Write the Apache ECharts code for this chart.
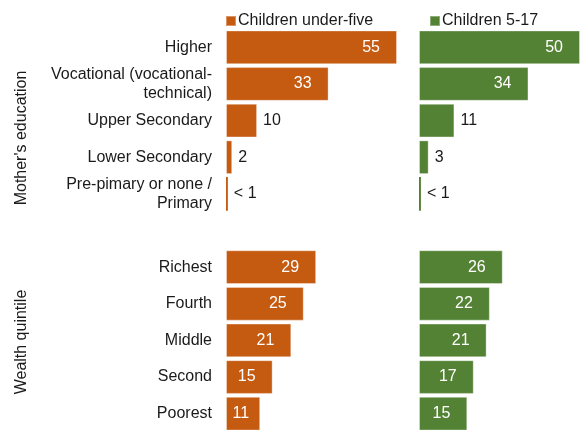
<!DOCTYPE html>
<html>
<head>
<meta charset="utf-8">
<script src="https://cdn.jsdelivr.net/npm/echarts@6/dist/echarts.min.js"></script>
<style>
  html, body { margin: 0; padding: 0; background: #fff; }
  #chart { width: 584px; height: 432px; }
</style>
</head>
<body>
<div id="chart"></div>
<script>
var categories = [
    'Higher',
    'Vocational (vocational-\ntechnical)',
    'Upper Secondary',
    'Lower Secondary',
    'Pre-pimary or none /\nPrimary',
    '',
    'Richest',
    'Fourth',
    'Middle',
    'Second',
    'Poorest'
];
var under5 = [55, 33, 10, 2, 0.6, null, 29, 25, 21, 15, 11];
var age5to17 = [50, 34, 11, 3, 0.6, null, 26, 22, 21, 17, 15];

var colors = ['#C55A11', '#548235'];
var font = 'Liberation Sans, Arial, sans-serif';

var dom = document.getElementById('chart');
var myChart = echarts.init(dom);

// bars with short values get their label outside
var outsideIdx = [2, 3, 4];

function barData(values) {
    return values.map(function (v, i) {
        if (v === null) return null;
        var outside = outsideIdx.indexOf(i) >= 0;
        var item = {
            value: v,
            label: outside
                ? { position: 'right', distance: 6, color: '#1a1a1a' }
                : { position: 'insideRight', distance: v < 15 ? 11 : 17, color: '#fff' }
        };
        if (v < 1) item.itemStyle = { borderWidth: 0 };
        return item;
    });
}

function labelText(p) {
    return p.value < 1 ? '< 1' : String(p.value);
}

var option = {
    animation: false,
    textStyle: { fontFamily: font },
    legend: [
        {
            left: 220, top: 8,
            icon: 'rect', itemWidth: 10, itemHeight: 10, itemGap: 2,
            textStyle: { fontSize: 16, color: '#1a1a1a', fontFamily: font, padding: [0, 0, 0, -3] },
            data: ['Children under-five']
        },
        {
            left: 424, top: 8,
            icon: 'rect', itemWidth: 10, itemHeight: 10,
            textStyle: { fontSize: 16, color: '#1a1a1a', fontFamily: font, padding: [0, 0, 0, -3] },
            data: ['Children 5-17']
        }
    ],
    grid: [
        { left: 226, top: 29, width: 171, height: 405 },
        { left: 419, top: 29, width: 161, height: 405 }
    ],
    xAxis: [
        { gridIndex: 0, type: 'value', min: 0, max: 55, show: false },
        { gridIndex: 1, type: 'value', min: 0, max: 50, show: false }
    ],
    yAxis: [
        {
            gridIndex: 0, type: 'category', inverse: true, data: categories,
            axisLine: { show: false }, axisTick: { show: false },
            axisLabel: {
                margin: 14, fontSize: 16, lineHeight: 19,
                color: '#1a1a1a', fontFamily: font, align: 'right'
            }
        },
        {
            gridIndex: 1, type: 'category', inverse: true, data: categories,
            axisLine: { show: false }, axisTick: { show: false },
            axisLabel: { show: false }
        }
    ],
    graphic: [
        {
            type: 'text', x: 22, y: 138, rotation: Math.PI / 2,
            style: {
                text: "Mother's education", fontSize: 16, fontFamily: font,
                fill: '#1a1a1a', align: 'center', verticalAlign: 'middle'
            }
        },
        {
            type: 'text', x: 22, y: 342, rotation: Math.PI / 2,
            style: {
                text: 'Wealth quintile', fontSize: 16, fontFamily: font,
                fill: '#1a1a1a', align: 'center', verticalAlign: 'middle'
            }
        }
    ],
    series: [
        {
            name: 'Children under-five',
            type: 'bar',
            xAxisIndex: 0, yAxisIndex: 0,
            barCategoryGap: '8%',
            itemStyle: { color: colors[0], borderColor: 'rgba(255,255,255,0.35)', borderWidth: 1 },
            label: { show: true, fontSize: 16, fontFamily: font, formatter: labelText },
            data: barData(under5)
        },
        {
            name: 'Children 5-17',
            type: 'bar',
            xAxisIndex: 1, yAxisIndex: 1,
            barCategoryGap: '8%',
            itemStyle: { color: colors[1], borderColor: 'rgba(255,255,255,0.35)', borderWidth: 1 },
            label: { show: true, fontSize: 16, fontFamily: font, formatter: labelText },
            data: barData(age5to17)
        }
    ]
};

myChart.setOption(option, true);
</script>
</body>
</html>
